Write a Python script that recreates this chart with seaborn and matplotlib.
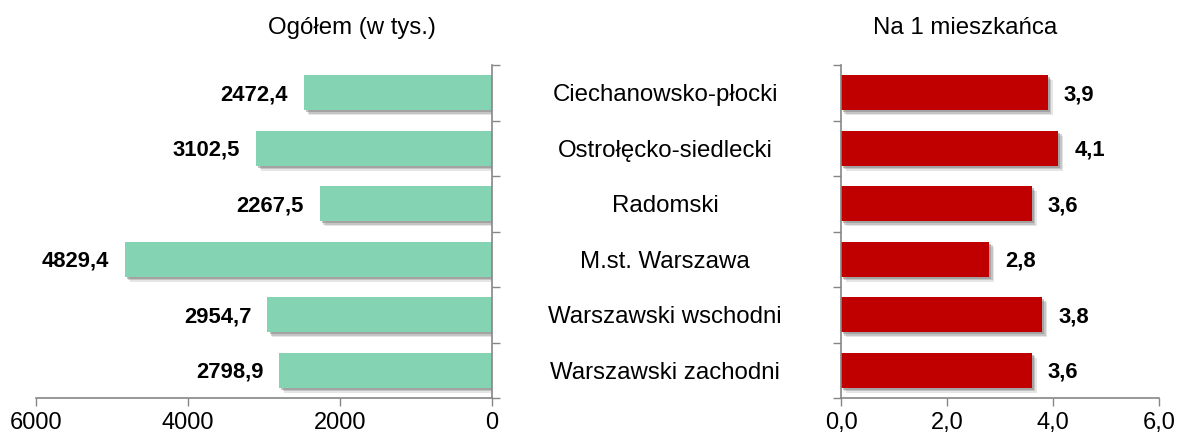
import matplotlib
matplotlib.use("Agg")
import matplotlib.pyplot as plt
import matplotlib.patheffects as pe
import seaborn as sns
import pandas as pd
import numpy as np

categories = ["Ciechanowsko-płocki", "Ostrołęcko-siedlecki", "Radomski",
              "M.st. Warszawa", "Warszawski wschodni", "Warszawski zachodni"]
ogolem = [2472.4, 3102.5, 2267.5, 4829.4, 2954.7, 2798.9]
na_mieszkanca = [3.9, 4.1, 3.6, 2.8, 3.8, 3.6]
left_ticks = [6000, 4000, 2000, 0]
right_ticks = [0.0, 2.0, 4.0, 6.0]

df = pd.DataFrame({"cat": categories, "ogolem": ogolem, "na": na_mieszkanca})

sns.set_theme(style="white")
plt.rcParams['font.family'] = ['Liberation Sans', 'DejaVu Sans']
plt.rcParams['text.color'] = 'black'

fig = plt.figure(figsize=(11.79, 4.38), dpi=100)
axL = fig.add_axes([36/1179, 1-398/438, (492-36)/1179, (398-65)/438])
axR = fig.add_axes([841/1179, 1-398/438, (1159-841)/1179, (398-65)/438])

green = "#84D4B4"
red = "#C00000"
spine_c = "#868686"
shadow = [
    pe.SimplePatchShadow(offset=(3.5, -3.5), shadow_rgbFace="#9a9a9a", alpha=0.25),
    pe.SimplePatchShadow(offset=(2.5, -2.5), shadow_rgbFace="#8a8a8a", alpha=0.35),
    pe.SimplePatchShadow(offset=(1.5, -1.5), shadow_rgbFace="#7a7a7a", alpha=0.45),
    pe.Normal(),
]

sns.barplot(data=df, y="cat", x="ogolem", color=green, ax=axL, width=0.63,
            orient="h", saturation=1, edgecolor="none")
sns.barplot(data=df, y="cat", x="na", color=red, ax=axR, width=0.63,
            orient="h", saturation=1, edgecolor="none")

for ax in (axL, axR):
    for p in ax.patches:
        p.set_path_effects(shadow)
    ax.set_ylabel("")
    ax.set_xlabel("")
    ax.set_ylim(5.5, -0.5)
    ax.set_yticks(np.arange(-0.5, 6.0, 1.0))
    ax.set_yticklabels([])
    ax.tick_params(axis="y", length=6, color=spine_c, width=1)
    ax.tick_params(axis="x", length=6, color=spine_c, width=1, labelsize=17, pad=4,
                   bottom=True, labelcolor="black")
    for s in ax.spines.values():
        s.set_color(spine_c)
        s.set_linewidth(1.2)
    ax.spines["top"].set_visible(False)

axL.set_xlim(6000, 0)
axL.set_xticks(left_ticks)
axL.set_xticklabels([str(t) for t in left_ticks])
axL.spines["left"].set_visible(False)
axL.yaxis.tick_right()
axL.tick_params(axis="y", right=True, left=False, direction="out")

axR.set_xlim(0, 6)
axR.set_xticks(right_ticks)
axR.set_xticklabels([f"{t:.1f}".replace(".", ",") for t in right_ticks])
axR.spines["right"].set_visible(False)
axR.tick_params(axis="y", left=True, right=False, direction="out")

for i, v in enumerate(ogolem):
    axL.annotate(f"{v:.1f}".replace(".", ","), xy=(v, i), xytext=(-11.5, -1.5),
                 textcoords="offset points", ha="right", va="center",
                 fontsize=15.8, fontweight="bold", color="black")
for i, v in enumerate(na_mieszkanca):
    axR.annotate(f"{v:.1f}".replace(".", ","), xy=(v, i), xytext=(11.5, -1.5),
                 textcoords="offset points", ha="left", va="center",
                 fontsize=15.8, fontweight="bold", color="black")

for i, c in enumerate(categories):
    y_disp = axL.transData.transform((0, i))[1] - 2.5
    y_fig = fig.transFigure.inverted().transform((0, y_disp))[1]
    fig.text(665/1179, y_fig, c, ha="center", va="center", fontsize=17.3, color="black")

fig.text(352/1179, 1-28/438, "Ogółem (w tys.)", ha="center", va="center", fontsize=17.3, color="black")
fig.text(965/1179, 1-28/438, "Na 1 mieszkańca", ha="center", va="center", fontsize=17.3, color="black")

fig.savefig("out.png", dpi=100)
